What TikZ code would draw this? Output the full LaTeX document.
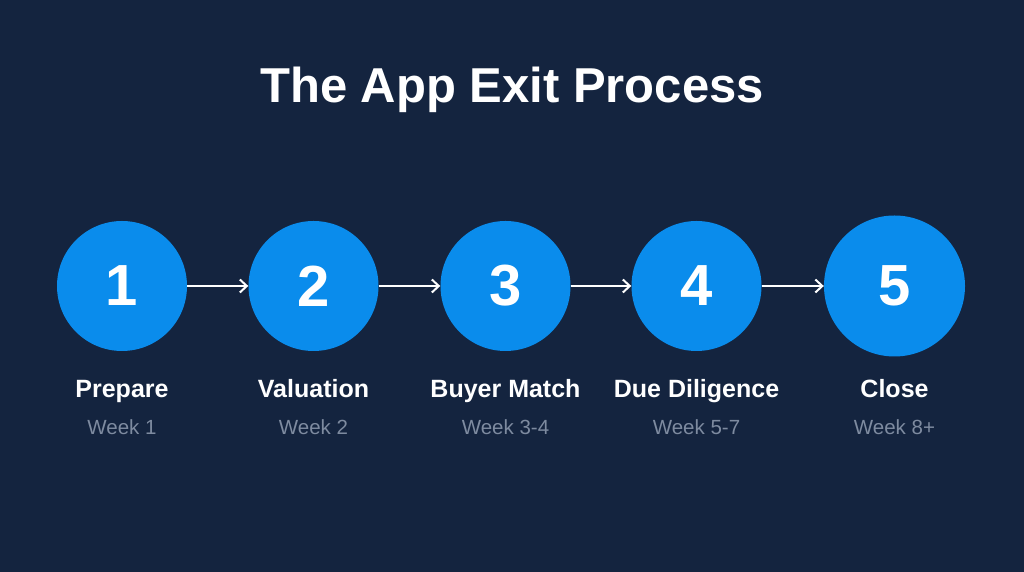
\documentclass[tikz,border=0pt]{standalone}
\usepackage{fontspec}
\setmainfont{Liberation Sans}
\usetikzlibrary{arrows.meta}
\definecolor{bg}{HTML}{14243F}
\definecolor{stepblue}{HTML}{0A8CEC}
\definecolor{subgray}{HTML}{7E8BA0}
\tikzset{
  stepcircle/.style={circle, fill=stepblue, draw=none, inner sep=0pt, minimum size=130pt, text=white, font=\fontsize{58}{60}\selectfont\bfseries},
  bigcircle/.style={stepcircle, minimum size=141pt},
  steplabel/.style={text=white, font=\fontsize{25}{27}\selectfont\bfseries, anchor=base},
  weeklabel/.style={text=subgray, font=\fontsize{20.5}{23}\selectfont, anchor=base},
  flow/.style={draw=white, line width=2pt, -{Straight Barb[length=7pt,width=13pt,line width=2pt]}},
  titlestyle/.style={text=white, font=\fontsize{49}{52}\selectfont\bfseries, anchor=base}
}
\begin{document}
\begin{tikzpicture}[x=1pt,y=1pt]
\fill[bg] (0,0) rectangle (1024,572);
\useasboundingbox (0,0) rectangle (1024,572);
\node[titlestyle] (title) at (512,572-103) {The App Exit Process};
\node[stepcircle] (c1) at (122,286) {1};
\node[stepcircle] (c2) at (313.5,286) {2};
\node[stepcircle] (c3) at (505.5,286) {3};
\node[stepcircle] (c4) at (696.5,286) {4};
\node[bigcircle] (c5) at (894.5,286) {5};
\draw[flow] (c1) -- (c2);
\draw[flow] (c2) -- (c3);
\draw[flow] (c3) -- (c4);
\draw[flow] (c4) -- (c5);
\node[steplabel] (l1) at (122,572-398) {Prepare};
\node[steplabel] (l2) at (313.5,572-398) {Valuation};
\node[steplabel] (l3) at (505.5,572-398) {Buyer Match};
\node[steplabel] (l4) at (696.5,572-398) {Due Diligence};
\node[steplabel] (l5) at (894.5,572-398) {Close};
\node[weeklabel] (w1) at (122,572-435) {Week 1};
\node[weeklabel] (w2) at (313.5,572-435) {Week 2};
\node[weeklabel] (w3) at (505.5,572-435) {Week 3-4};
\node[weeklabel] (w4) at (696.5,572-435) {Week 5-7};
\node[weeklabel] (w5) at (894.5,572-435) {Week 8+};
\end{tikzpicture}
\end{document}
